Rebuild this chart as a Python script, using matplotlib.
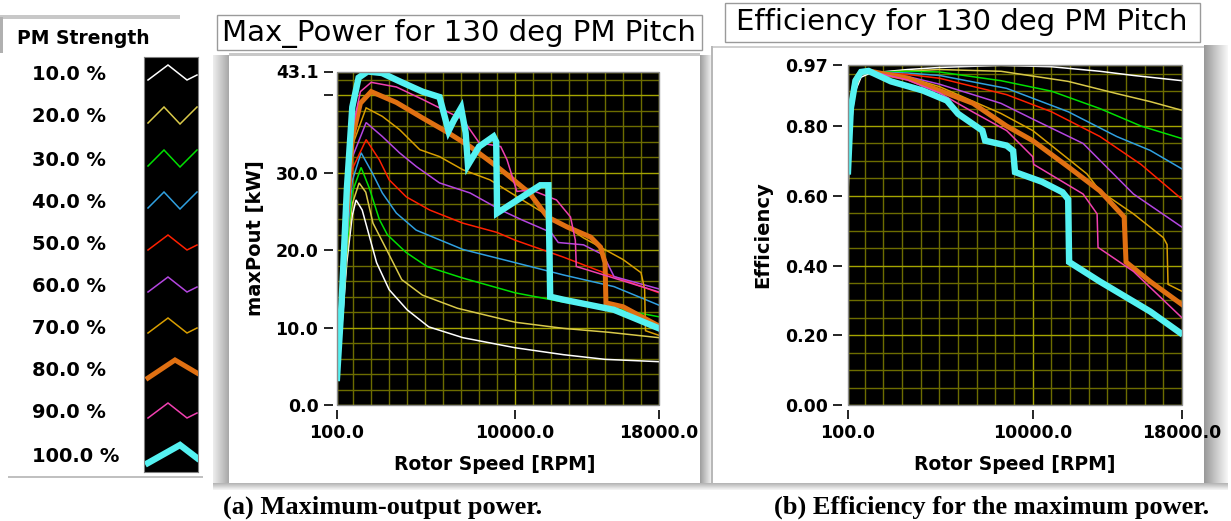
import matplotlib.pyplot as plt
import numpy as np
from matplotlib.patches import Rectangle
from matplotlib.ticker import MultipleLocator

# PM strength levels and their trace colours
levels = ['10.0 %', '20.0 %', '30.0 %', '40.0 %', '50.0 %',
          '60.0 %', '70.0 %', '80.0 %', '90.0 %', '100.0 %']
colors = ['#ffffff', '#d9c94a', '#00e000', '#30a0e0', '#ff2000',
          '#b446e0', '#d89e00', '#e07012', '#f040b0', '#55f2f2']
widths = [1.1, 1.1, 1.1, 1.1, 1.1, 1.1, 1.1, 3.6, 1.1, 4.6]

# Maximum output power [kW] vs rotor speed [RPM]
p10_rpm = [100, 350, 650, 950, 1160, 1500, 1900, 2300, 3000, 4000, 5200, 7100, 10000, 12700, 15000, 18000]
p10_kw = [2.6, 9.5, 18.5, 24.5, 26.5, 25.2, 21.8, 18.4, 14.9, 12.3, 10.1, 8.7, 7.4, 6.5, 5.9, 5.6]
p20_rpm = [100, 350, 650, 950, 1330, 1700, 2100, 2850, 3700, 4850, 6800, 10000, 12700, 15200, 18000]
p20_kw = [3.8, 10.0, 19.5, 26.0, 28.7, 27.5, 23.5, 20.1, 16.2, 14.2, 12.5, 10.7, 9.9, 9.4, 8.7]
p30_rpm = [100, 350, 650, 950, 1440, 1900, 2450, 2900, 3950, 5100, 7100, 10000, 12700, 15500, 18000]
p30_kw = [4.0, 10.5, 20.5, 27.5, 30.7, 28.0, 24.0, 22.0, 19.7, 17.9, 16.4, 14.5, 13.3, 12.5, 11.4]
p40_rpm = [100, 350, 650, 950, 1440, 2060, 2620, 3400, 4500, 7100, 10000, 12700, 15500, 18000]
p40_kw = [4.1, 11.0, 21.5, 29.0, 32.6, 30.0, 27.4, 24.8, 22.6, 20.1, 18.4, 16.8, 15.3, 12.9]
p50_rpm = [100, 350, 650, 950, 1720, 2450, 3000, 3950, 5250, 7100, 9000, 10000, 12700, 15500, 18000]
p50_kw = [4.2, 11.5, 22.5, 30.5, 34.3, 31.7, 29.1, 26.9, 25.2, 23.5, 22.3, 21.3, 19.1, 16.6, 14.5]
p60_rpm = [100, 350, 650, 950, 1720, 2620, 3570, 4520, 5800, 7500, 9200, 10400, 12000, 12400, 13800, 14900, 15500, 18000]
p60_kw = [4.3, 12.0, 23.5, 32.0, 36.5, 34.7, 32.6, 30.8, 28.7, 27.4, 25.2, 23.9, 22.3, 21.0, 20.7, 19.4, 16.6, 15.0]
p70_rpm = [100, 350, 650, 950, 1720, 2620, 3570, 4700, 5800, 7100, 8600, 10400, 11600, 12900, 13800, 16000, 17000, 17200, 17250, 18000]
p70_kw = [4.4, 12.5, 24.5, 33.5, 38.4, 37.3, 35.6, 33.0, 32.1, 30.4, 29.1, 26.5, 24.8, 23.0, 21.6, 18.8, 17.1, 15.0, 9.6, 9.0]
p80_rpm = [100, 350, 650, 950, 1400, 2000, 3400, 4850, 6200, 7500, 9000, 9700, 10800, 11800, 12900, 14200, 14750, 15000, 15050, 16000, 18000]
p80_kw = [4.5, 13.0, 25.5, 34.5, 39.0, 40.5, 39.1, 37.1, 35.3, 33.4, 30.8, 29.5, 27.4, 24.3, 23.0, 21.7, 20.4, 18.4, 13.2, 12.7, 10.2]
p90_rpm = [100, 350, 650, 950, 1400, 2000, 3400, 4850, 5800, 7100, 8000, 9200, 9550, 10100, 10900, 12300, 13080, 13350, 13400, 15500, 18000]
p90_kw = [4.6, 13.5, 26.5, 35.5, 40.5, 41.7, 41.1, 39.5, 38.4, 36.9, 33.9, 33.4, 31.7, 27.6, 27.8, 26.5, 24.3, 21.3, 17.9, 16.4, 14.6]
p100_rpm = [100, 350, 650, 950, 1300, 1800, 2600, 3700, 4850, 5800, 6300, 6600, 7000, 7250, 7380, 8000, 8800, 8950, 9000, 11400, 11850, 11950, 12700, 15500, 17900]
p100_kw = [3.5, 13.0, 28.0, 38.5, 42.3, 43.1, 42.9, 41.7, 40.5, 39.8, 35.4, 36.8, 38.4, 35.2, 31.0, 33.4, 34.7, 34.0, 24.8, 28.4, 28.4, 14.0, 13.6, 12.3, 10.0]

# Efficiency at maximum power vs rotor speed [RPM]
e10_rpm = [100, 200, 450, 800, 1300, 3300, 5000, 8300, 11000, 13600, 15400, 18000]
e10_eff = [0.605, 0.76, 0.895, 0.94, 0.952, 0.962, 0.968, 0.974, 0.970, 0.957, 0.945, 0.930]
e20_rpm = [100, 250, 500, 800, 1300, 3300, 5000, 8300, 11900, 14500, 16300, 18000]
e20_eff = [0.64, 0.81, 0.91, 0.948, 0.953, 0.958, 0.962, 0.957, 0.928, 0.893, 0.870, 0.845]
e30_rpm = [100, 250, 500, 800, 1300, 3300, 5000, 8300, 11000, 13600, 15800, 18000]
e30_eff = [0.65, 0.82, 0.915, 0.95, 0.954, 0.957, 0.955, 0.930, 0.900, 0.850, 0.800, 0.764]
e40_rpm = [100, 250, 500, 800, 1300, 3300, 5000, 8600, 11900, 14500, 16300, 18000]
e40_eff = [0.66, 0.83, 0.92, 0.952, 0.955, 0.952, 0.945, 0.908, 0.841, 0.770, 0.730, 0.677]
e50_rpm = [100, 250, 500, 800, 1300, 3300, 5000, 8600, 11000, 13600, 15800, 18000]
e50_eff = [0.67, 0.84, 0.925, 0.953, 0.955, 0.948, 0.937, 0.890, 0.841, 0.770, 0.690, 0.590]
e60_rpm = [100, 250, 500, 800, 1300, 3300, 5000, 8300, 10000, 12700, 15400, 18000]
e60_eff = [0.68, 0.845, 0.928, 0.954, 0.955, 0.942, 0.920, 0.865, 0.820, 0.750, 0.605, 0.510]
e70_rpm = [100, 250, 500, 800, 1300, 3300, 5000, 8300, 10000, 12900, 13600, 15400, 17000, 17200, 17250, 18000]
e70_eff = [0.68, 0.85, 0.93, 0.955, 0.956, 0.940, 0.913, 0.836, 0.787, 0.663, 0.614, 0.548, 0.480, 0.460, 0.346, 0.326]
e80_rpm = [100, 250, 500, 800, 1300, 3300, 5000, 6800, 8600, 10000, 11900, 13600, 14900, 15000, 16300, 18000]
e80_eff = [0.69, 0.855, 0.933, 0.956, 0.957, 0.937, 0.902, 0.865, 0.800, 0.758, 0.683, 0.614, 0.539, 0.410, 0.354, 0.288]
e90_rpm = [100, 250, 500, 800, 1300, 3300, 5000, 6800, 8600, 10000, 10050, 12700, 13450, 13500, 15400, 18000]
e90_eff = [0.69, 0.86, 0.935, 0.957, 0.957, 0.932, 0.895, 0.840, 0.787, 0.712, 0.690, 0.605, 0.548, 0.452, 0.383, 0.250]
e100_rpm = [100, 250, 500, 800, 1200, 2400, 4100, 5400, 6000, 7300, 7450, 8600, 8950, 9050, 10500, 11600, 11900, 11950, 13600, 16300, 17900]
e100_eff = [0.67, 0.85, 0.93, 0.955, 0.958, 0.928, 0.902, 0.873, 0.835, 0.787, 0.758, 0.744, 0.729, 0.668, 0.640, 0.610, 0.590, 0.410, 0.354, 0.268, 0.207]

power = [(p10_rpm, p10_kw), (p20_rpm, p20_kw), (p30_rpm, p30_kw), (p40_rpm, p40_kw),
         (p50_rpm, p50_kw), (p60_rpm, p60_kw), (p70_rpm, p70_kw), (p80_rpm, p80_kw),
         (p90_rpm, p90_kw), (p100_rpm, p100_kw)]
effic = [(e10_rpm, e10_eff), (e20_rpm, e20_eff), (e30_rpm, e30_eff), (e40_rpm, e40_eff),
         (e50_rpm, e50_eff), (e60_rpm, e60_eff), (e70_rpm, e70_eff), (e80_rpm, e80_eff),
         (e90_rpm, e90_eff), (e100_rpm, e100_eff)]

W, H = 1231, 521
BOLD = dict(family='DejaVu Sans', weight='bold')


def rect(x0, y0, x1, y1):
    # pixel box (top-left origin) -> figure fraction
    return [x0 / W, 1 - y1 / H, (x1 - x0) / W, (y1 - y0) / H]


def ftext(x, y, s, **kw):
    fig.text(x / W, 1 - y / H, s, **kw)


fig = plt.figure(figsize=(W / 100, H / 100), dpi=100)
fig.patch.set_facecolor('white')

# Backdrop in pixel units for the panel frames
bg = fig.add_axes([0, 0, 1, 1])
bg.axis('off')


def shade(x0, x1, y0, y1, c0, c1, along='x'):
    t = np.linspace(0, 1, 32)[:, None]
    cols = (1 - t) * np.array(c0) + t * np.array(c1)
    img = cols[None, :, :] if along == 'x' else cols[:, None, :]
    bg.imshow(img, extent=(x0, x1, y1, y0), aspect='auto', interpolation='bilinear')


# left panel frame
shade(213, 229, 55, 488, (0.93, 0.93, 0.93), (0.66, 0.66, 0.66))
shade(700, 712, 55, 488, (0.62, 0.62, 0.62), (0.96, 0.96, 0.96))
shade(213, 712, 483, 490, (0.70, 0.70, 0.70), (0.97, 0.97, 0.97), along='y')
bg.add_patch(Rectangle((229, 53), 471, 3, color='#c8c8c8', lw=0))
# right panel frame
shade(1204, 1228, 45, 488, (0.60, 0.60, 0.60), (0.97, 0.97, 0.97))
shade(712, 1228, 483, 490, (0.70, 0.70, 0.70), (0.97, 0.97, 0.97), along='y')
bg.add_patch(Rectangle((712, 46), 492, 2, color='#d0d0d0', lw=0))
bg.add_patch(Rectangle((711, 46), 2, 438, color='#b8b8b8', lw=0))
# legend column
bg.add_patch(Rectangle((0, 15), 180, 4, color='#c8c8c8', lw=0))
bg.add_patch(Rectangle((0, 17), 3, 36, color='#b0b0b0', lw=0))
bg.add_patch(Rectangle((8, 476), 195, 2, color='#c0c0c0', lw=0))
# title boxes
bg.add_patch(Rectangle((217, 15), 485, 35, facecolor='white', edgecolor='#9a9a9a', lw=1))
bg.add_patch(Rectangle((725, 3), 475, 39, facecolor='white', edgecolor='#9a9a9a', lw=1))
bg.set_xlim(0, W)
bg.set_ylim(H, 0)

ftext(459, 33, 'Max_Power for 130 deg PM Pitch', fontsize=21, ha='center', va='center')
ftext(962, 22, 'Efficiency for 130 deg PM Pitch', fontsize=21, ha='center', va='center')

# Legend column
ftext(17, 39, 'PM Strength', fontsize=13.5, ha='left', va='center', **BOLD)
row_y = [75, 117, 160, 202, 245, 287, 328, 370, 413, 457]
icon_thin = ([148, 168, 187, 197], [5, -10, 5, 0])
icon_zig = ([148, 164, 180, 197], [6, -10, 7, -10])
icons = [icon_thin, icon_zig, icon_zig, icon_zig, icon_thin, icon_thin, icon_thin,
         ([148, 175, 197], [8, -10, 3]), icon_thin, ([148, 180, 197], [6, -12, 1])]

lg = fig.add_axes(rect(144, 57, 198, 472))
lg.set_facecolor('black')
for s in lg.spines.values():
    s.set_color('#808080')
lg.set_xticks([])
lg.set_yticks([])
for lab, c, lw, y, (ix, iy) in zip(levels, colors, widths, row_y, icons):
    ftext(32, y, lab, fontsize=14, ha='left', va='center', **BOLD)
    lg.plot(ix, [y + d for d in iy], color=c, lw=lw, solid_joinstyle='miter')
lg.set_xlim(144, 198)
lg.set_ylim(472, 57)


def style_graph(ax, ymax, ystep_minor, yticks, ylabels, yout):
    ax.set_facecolor('black')
    ax.set_xlim(100, 18000)
    ax.set_ylim(0, ymax)
    ax.set_xticks([100, 10000, 18000])
    ax.set_xticklabels(['100.0', '10000.0', '18000.0'])
    ax.set_yticks(yticks)
    ax.set_yticklabels(ylabels)
    ax.xaxis.set_minor_locator(MultipleLocator(1000))
    ax.yaxis.set_minor_locator(MultipleLocator(ystep_minor))
    ax.set_axisbelow(True)
    ax.grid(which='major', color='#a4a400', lw=1.0)
    ax.grid(which='minor', color='#6c6c00', lw=1.0)
    for side in ['top', 'right']:
        ax.spines[side].set_visible(False)
    ax.spines['left'].set_position(('outward', yout))
    ax.spines['bottom'].set_position(('outward', 3.6))
    ax.spines['left'].set_color('none')
    ax.spines['bottom'].set_color('none')
    ax.add_patch(Rectangle((0, 0), 1, 1, transform=ax.transAxes, fill=False,
                           edgecolor='#8c8c8c', lw=1, clip_on=False, zorder=5))
    ax.tick_params(which='major', direction='out', length=6.8, width=1.2, pad=3.6,
                   color='black', labelsize=12.5)
    ax.tick_params(which='minor', length=0)
    for t in ax.get_xticklabels() + ax.get_yticklabels():
        t.set_fontweight('bold')


# Maximum output power
ax1 = fig.add_axes(rect(337, 71.5, 659, 405))
for (x, y), c, lw in zip(power, colors, widths):
    ax1.plot(x, y, color=c, lw=lw, solid_joinstyle='miter')
style_graph(ax1, 43.1, 2, [0, 10, 20, 30, 40, 43.1],
            ['0.0', '10.0', '20.0', '30.0', '', '43.1'], 3.0)

# Efficiency
ax2 = fig.add_axes(rect(848, 65, 1182, 405))
for (x, y), c, lw in zip(effic, colors, widths):
    ax2.plot(x, y, color=c, lw=lw, solid_joinstyle='miter')
style_graph(ax2, 0.975, 0.05, [0, 0.2, 0.4, 0.6, 0.8, 0.975],
            ['0.00', '0.20', '0.40', '0.60', '0.80', '0.97'], 4.0)

# axis titles
ftext(495, 465, 'Rotor Speed [RPM]', fontsize=13.5, ha='center', va='center', **BOLD)
ftext(1015, 465, 'Rotor Speed [RPM]', fontsize=13.5, ha='center', va='center', **BOLD)
ftext(255, 238, 'maxPout [kW]', fontsize=14, rotation=90, ha='center', va='center', **BOLD)
ftext(763, 235, 'Efficiency', fontsize=14, rotation=90, ha='center', va='center', **BOLD)

# sub-figure captions
ftext(383, 507, '(a) Maximum-output power.', fontsize=19, ha='center', va='center',
      family='Liberation Serif', weight='bold')
ftext(992, 507, '(b) Efficiency for the maximum power.', fontsize=19, ha='center',
      va='center', family='Liberation Serif', weight='bold')

fig.savefig('out.png', dpi=100)
